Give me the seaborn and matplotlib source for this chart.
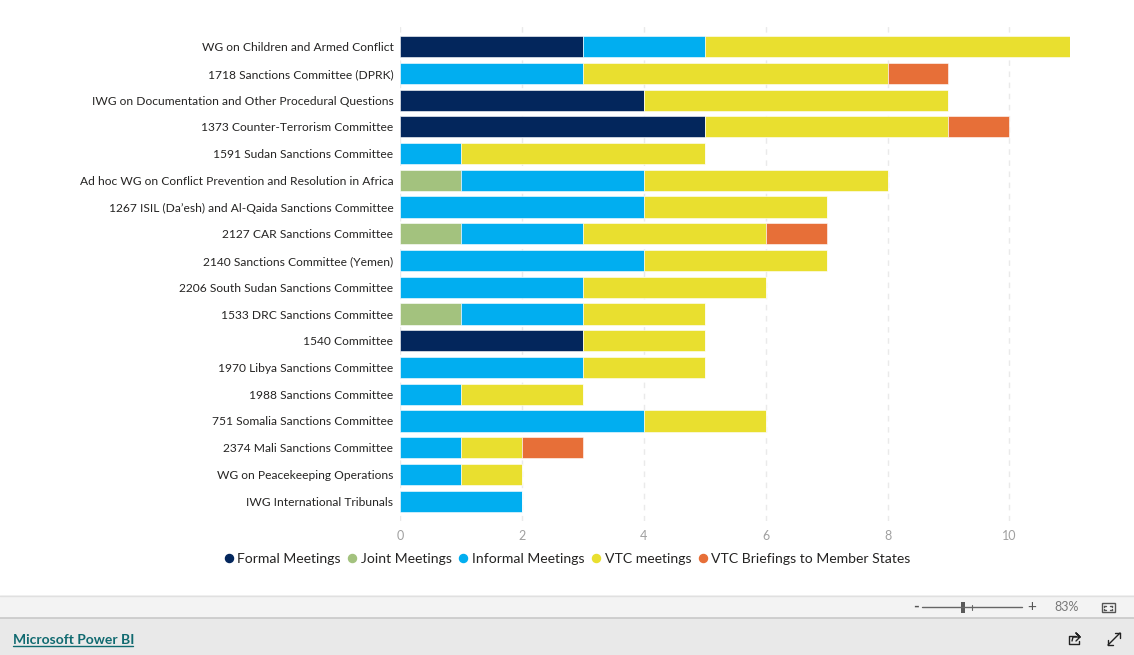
import numpy as np
import pandas as pd
import seaborn as sns
import matplotlib
matplotlib.use("Agg")
import matplotlib.pyplot as plt
from matplotlib.lines import Line2D
from matplotlib.patches import Rectangle

committees = [
    "WG on Children and Armed Conflict", "1718 Sanctions Committee (DPRK)",
    "IWG on Documentation and Other Procedural Questions", "1373 Counter-Terrorism Committee",
    "1591 Sudan Sanctions Committee", "Ad hoc WG on Conflict Prevention and Resolution in Africa",
    "1267 ISIL (Da\u2019esh) and Al-Qaida Sanctions Committee", "2127 CAR Sanctions Committee",
    "2140 Sanctions Committee (Yemen)", "2206 South Sudan Sanctions Committee",
    "1533 DRC Sanctions Committee", "1540 Committee", "1970 Libya Sanctions Committee",
    "1988 Sanctions Committee", "751 Somalia Sanctions Committee", "2374 Mali Sanctions Committee",
    "WG on Peacekeeping Operations", "IWG International Tribunals",
]
formal   = [3, 0, 4, 5, 0, 0, 0, 0, 0, 0, 0, 3, 0, 0, 0, 0, 0, 0]
joint    = [0, 0, 0, 0, 0, 1, 0, 1, 0, 0, 1, 0, 0, 0, 0, 0, 0, 0]
informal = [2, 3, 0, 0, 1, 3, 4, 2, 4, 3, 2, 0, 3, 1, 4, 1, 1, 2]
vtc      = [6, 5, 5, 4, 4, 4, 3, 3, 3, 3, 2, 2, 2, 2, 2, 1, 1, 0]
briefing = [0, 1, 0, 1, 0, 0, 0, 1, 0, 0, 0, 0, 0, 0, 0, 1, 0, 0]
series_names = ["Formal Meetings", "Joint Meetings", "Informal Meetings", "VTC meetings",
                "VTC Briefings to Member States"]
series_values = [formal, joint, informal, vtc, briefing]
series_colors = ["#03265C", "#A3C27E", "#01AEF0", "#E9DF2F", "#E76F38"]

W, H = 1134, 655
sns.set_theme(style="white")
plt.rcParams["font.family"] = ["Lato", "DejaVu Sans"]
fig = plt.figure(figsize=(W / 100, H / 100), dpi=100, facecolor="white")

def px_axes(l, t, r, b):
    return fig.add_axes([l / W, 1 - b / H, (r - l) / W, (b - t) / H])

ax = px_axes(400.3, 24.7, 1070.3, 520.7)
left = np.zeros(len(committees))
for vals, c in zip(series_values, series_colors):
    sns.barplot(y=committees, x=vals, left=left, color=c, saturation=1, width=0.79,
                orient="h", ax=ax, edgecolor="white", linewidth=0.4, zorder=3)
    left = left + np.array(vals)
ax.set_xlim(0, 11)
ax.set_ylim(17.73, -0.82)
ax.set_xticks([0, 2, 4, 6, 8, 10])
ax.grid(axis="x", color="#EAEAEA", linestyle=(0, (4, 4)), linewidth=1)
ax.set_axisbelow(True)
for s in ax.spines.values():
    s.set_visible(False)
ax.tick_params(axis="y", length=0, pad=4.9, labelsize=8.68, labelcolor="#252423")
ax.tick_params(axis="x", length=0, pad=6.5, labelsize=9, labelcolor="#A0A0A0")
ax.set_xlabel("")
ax.set_ylabel("")

handles = [Line2D([], [], marker="o", linestyle="", color=c, markersize=5.8) for c in series_colors]
fig.legend(handles, series_names, loc="center", bbox_to_anchor=(567.5 / W, 1 - 558.7 / H), ncol=5,
           frameon=False, fontsize=10.05, handlelength=0.6, handletextpad=0.3, columnspacing=0.55,
           labelcolor="#252423", borderpad=0)

# Power BI viewer chrome
fig.add_artist(Rectangle((0, 1 - 618 / H), 1, 23 / H, transform=fig.transFigure, fc="#F3F3F3", ec="none"))
fig.add_artist(Rectangle((0, 0), 1, 37 / H, transform=fig.transFigure, fc="#E9E9E9", ec="none"))

def hline(x0, x1, y, color, lw=1):
    fig.add_artist(Line2D([x0 / W, x1 / W], [1 - y / H, 1 - y / H], color=color, lw=lw,
                          transform=fig.transFigure))

def vline(x, y0, y1, color, lw=1):
    fig.add_artist(Line2D([x / W, x / W], [1 - y0 / H, 1 - y1 / H], color=color, lw=lw,
                          transform=fig.transFigure))

hline(0, W, 595.5, "#E0E0E0")
hline(0, W, 618, "#C8C8C8", 1.2)
fig.text(13 / W, 1 - 639.5 / H, "Microsoft Power BI", color="#106A70", fontsize=10,
         fontweight="bold", va="center")
hline(13, 133, 646, "#106A70", 1)
fig.text(915.5 / W, 1 - 606.5 / H, "-", color="#555555", fontsize=11, ha="center", va="center", fontweight="bold")
hline(922, 1022, 607, "#666666", 1)
vline(972, 604.5, 609.5, "#666666", 0.8)
fig.add_artist(Rectangle((961 / W, 1 - 612.5 / H), 4 / W, 11 / H, transform=fig.transFigure, fc="#5A5A5A", ec="none"))
fig.text(1032 / W, 1 - 606.5 / H, "+", color="#555555", fontsize=11, ha="center", va="center")
fig.text(1067 / W, 1 - 607 / H, "83%", color="#777777", fontsize=9, ha="center", va="center")
# fit-to-page icon: frame with corner brackets
fig.add_artist(Rectangle((1101.5 / W, 1 - 612 / H), 13 / W, 9 / H, transform=fig.transFigure, fc="none", ec="#555555", lw=1))
hline(1104, 1106, 605.5, "#555555"); vline(1104, 605.5, 607, "#555555")
hline(1110, 1112, 605.5, "#555555"); vline(1112, 605.5, 607, "#555555")
hline(1104, 1106, 610, "#555555"); vline(1104, 608.5, 610, "#555555")
hline(1110, 1112, 610, "#555555"); vline(1112, 608.5, 610, "#555555")
# share icon
fig.add_artist(Line2D([1076 / W, 1069 / W, 1069 / W, 1079 / W, 1079 / W],
                      [1 - 636 / H, 1 - 636 / H, 1 - 644 / H, 1 - 644 / H, 1 - 641 / H], color="#222222", lw=1,
                      transform=fig.transFigure))
fig.add_artist(Line2D([1072 / W, 1073 / W, 1080 / W, 1076 / W, 1080 / W, 1076 / W],
                      [1 - 641 / H, 1 - 637 / H, 1 - 637 / H, 1 - 633 / H, 1 - 637 / H, 1 - 641 / H], color="#222222", lw=1,
                      transform=fig.transFigure))
# expand icon
fig.add_artist(Line2D([1108 / W, 1120 / W], [1 - 645 / H, 1 - 633 / H], color="#222222", lw=1, transform=fig.transFigure))
hline(1115, 1120, 633, "#222222"); vline(1120, 633, 638, "#222222")
hline(1108, 1113, 645, "#222222"); vline(1108, 640, 645, "#222222")

fig.savefig("out.png", dpi=100, facecolor="white")
